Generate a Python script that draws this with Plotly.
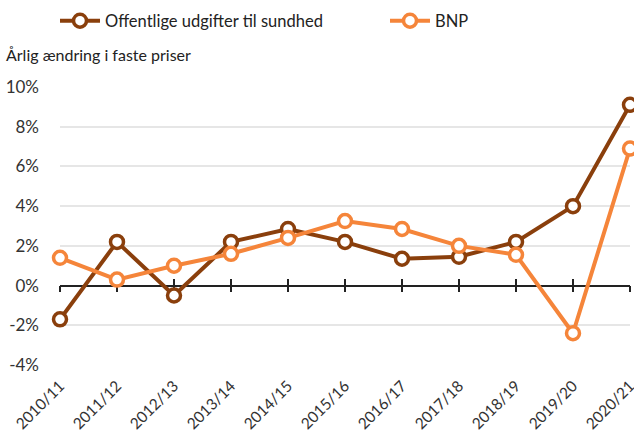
import plotly.graph_objects as go

categories = ["2010/11", "2011/12", "2012/13", "2013/14", "2014/15", "2015/16",
              "2016/17", "2017/18", "2018/19", "2019/20", "2020/21"]
offentlige = [-1.7, 2.2, -0.5, 2.2, 2.85, 2.2, 1.35, 1.45, 2.2, 4.0, 9.1]
bnp = [1.4, 0.3, 1.0, 1.6, 2.4, 3.25, 2.85, 2.0, 1.55, -2.4, 6.9]
y_ticks = [-4, -2, 0, 2, 4, 6, 8, 10]
y_ticktext = [f"{v}%" for v in y_ticks]

FONT = "Lato"
DARK = "#8a3f0c"
ORANGE = "#f5853a"

fig = go.Figure()
for name, vals, col, lg in [("Offentlige udgifter til sundhed", offentlige, DARK, "legend"),
                            ("BNP", bnp, ORANGE, "legend2")]:
    fig.add_trace(go.Scatter(
        x=categories, y=vals, name=name, mode="lines+markers",
        line=dict(color=col, width=4),
        marker=dict(symbol="circle", size=13, color="white",
                    line=dict(color=col, width=3.5)),
        cliponaxis=False, legend=lg,
    ))

n = len(categories)
idx = list(range(n))
# zero line with crossing ticks (two overlay axes: outside + inside)
for ax_key, ax_name, tdir in [("x2", "xaxis2", "outside"), ("x3", "xaxis3", "inside")]:
    fig.add_trace(go.Scatter(x=idx, y=[0] * n, xaxis=ax_key, yaxis="y",
                             mode="lines", line=dict(width=0),
                             showlegend=False, hoverinfo="skip"))
    fig.update_layout(**{ax_name: dict(
        overlaying="x", anchor="free", position=4 / 14, range=[0, n - 1],
        tickmode="array", tickvals=idx, showticklabels=False,
        ticks=tdir, ticklen=6, tickwidth=1.5, tickcolor="#222",
        showline=True, linecolor="#222", linewidth=1.5, showgrid=False,
        zeroline=False, layer="below traces", automargin=False)})

leg_common = dict(orientation="h", xref="container", yref="container",
                  y=1 - 21 / 441, xanchor="left", yanchor="middle",
                  font=dict(size=16.5, color="#222"), itemwidth=40,
                  bgcolor="rgba(0,0,0,0)")

fig.update_layout(
    width=634, height=441,
    margin=dict(l=60, r=4, t=87, b=76, autoexpand=False),
    paper_bgcolor="white", plot_bgcolor="white",
    font=dict(family=FONT, size=16, color="#333333"),
    showlegend=True,
    legend=dict(x=55 / 634, **leg_common),
    legend2=dict(x=385 / 634, **leg_common),
    title=dict(text="Årlig ændring i faste priser", xref="container",
               yref="container", x=6 / 634, y=1 - 55 / 441,
               xanchor="left", yanchor="middle",
               font=dict(size=16, color="#222", family=FONT)),
    xaxis=dict(type="category", range=[0, n - 1], tickangle=-45,
               showgrid=False, zeroline=False, showline=False, ticks="",
               ticklabelstandoff=8, tickfont=dict(size=15.5, color="#333"),
               automargin=False),
    yaxis=dict(range=[-4, 10], tickmode="array", tickvals=y_ticks,
               ticktext=y_ticktext, showgrid=True, gridcolor="#e6e6e6",
               gridwidth=1.5, zeroline=False, showline=False, ticks="",
               ticklabelstandoff=20, tickfont=dict(size=17, color="#333"),
               automargin=False),
)

fig.write_html("out.html", config={"displayModeBar": False},
               post_script="document.body.style.margin='0';")
